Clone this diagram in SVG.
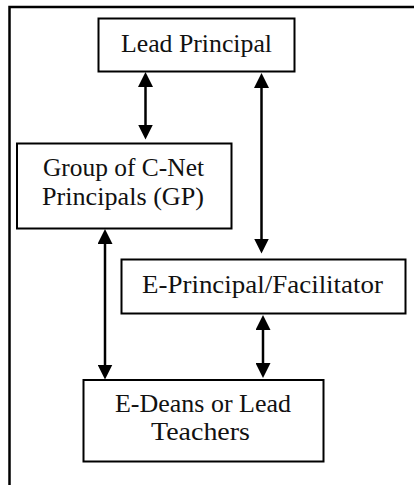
<svg xmlns="http://www.w3.org/2000/svg" width="414" height="485" viewBox="0 0 414 485">
<style>
.box{fill:#fff;stroke:#000;stroke-width:2}
.lbl{font-family:"Liberation Serif","Times New Roman",serif;font-size:26px;fill:#111;text-anchor:middle}
.con{stroke:#000;stroke-width:2.5;fill:none;marker-start:url(#ah);marker-end:url(#ah)}
</style>
<defs>
<marker id="ah" viewBox="0 0 15 15" refX="7" refY="7.5" markerWidth="15" markerHeight="15" markerUnits="userSpaceOnUse" orient="auto-start-reverse">
<path d="M0,0 L15,7.5 L0,15 z" fill="#000"/>
</marker>
</defs>
<rect width="414" height="485" fill="#fff"/>
<path d="M9.5,485 V7 H414" fill="none" stroke="#000" stroke-width="2.5"/>
<g id="connectors">
<line class="con" x1="145.5" y1="80" x2="145.5" y2="131.5"/>
<line class="con" x1="261.5" y1="81" x2="261.5" y2="245.5"/>
<line class="con" x1="105" y1="237" x2="105" y2="371.5"/>
<line class="con" x1="263" y1="323" x2="263" y2="370"/>
</g>
<g id="lead-principal">
<rect class="box" x="98.5" y="18.5" width="196" height="53"/>
<text class="lbl" x="196.5" y="51.7" textLength="151" lengthAdjust="spacingAndGlyphs">Lead Principal</text>
</g>
<g id="group-principals">
<rect class="box" x="17" y="143.5" width="214.5" height="85"/>
<text class="lbl" x="123.5" y="176" textLength="161" lengthAdjust="spacingAndGlyphs">Group of C-Net</text>
<text class="lbl" x="123" y="205" textLength="162" lengthAdjust="spacingAndGlyphs">Principals (GP)</text>
</g>
<g id="e-principal">
<rect class="box" x="121.5" y="259.5" width="284" height="54"/>
<text class="lbl" x="262.5" y="293.3" textLength="241" lengthAdjust="spacingAndGlyphs">E-Principal/Facilitator</text>
</g>
<g id="e-deans">
<rect class="box" x="83.5" y="380" width="240" height="81.5"/>
<text class="lbl" x="203" y="412" textLength="176" lengthAdjust="spacingAndGlyphs">E-Deans or Lead</text>
<text class="lbl" x="200.5" y="440" textLength="99" lengthAdjust="spacingAndGlyphs">Teachers</text>
</g>
</svg>
